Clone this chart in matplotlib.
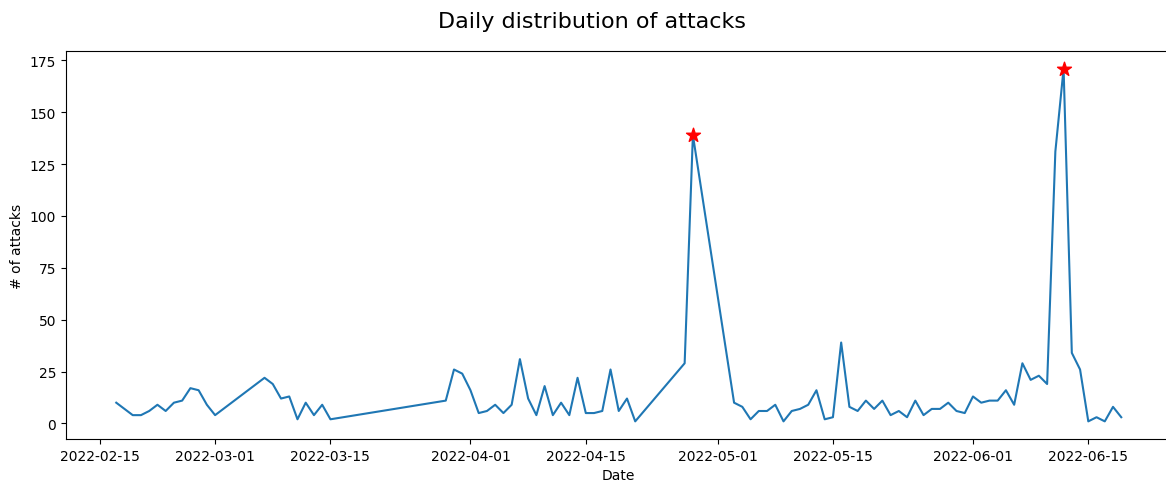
import matplotlib
matplotlib.use("Agg")
import matplotlib.pyplot as plt
import pandas as pd

# daily attack counts (days without any attack are simply missing)
days = [
    "2022-02-17", "2022-02-19", "2022-02-20", "2022-02-21", "2022-02-22",
    "2022-02-23", "2022-02-24", "2022-02-25", "2022-02-26", "2022-02-27",
    "2022-02-28", "2022-03-01", "2022-03-07", "2022-03-08", "2022-03-09",
    "2022-03-10", "2022-03-11", "2022-03-12", "2022-03-13", "2022-03-14",
    "2022-03-15", "2022-03-29", "2022-03-30", "2022-03-31", "2022-04-01",
    "2022-04-02", "2022-04-03", "2022-04-04", "2022-04-05", "2022-04-06",
    "2022-04-07", "2022-04-08", "2022-04-09", "2022-04-10", "2022-04-11",
    "2022-04-12", "2022-04-13", "2022-04-14", "2022-04-15", "2022-04-16",
    "2022-04-17", "2022-04-18", "2022-04-19", "2022-04-20", "2022-04-21",
    "2022-04-27", "2022-04-28", "2022-05-03", "2022-05-04", "2022-05-05",
    "2022-05-06", "2022-05-07", "2022-05-08", "2022-05-09", "2022-05-10",
    "2022-05-11", "2022-05-12", "2022-05-13", "2022-05-14", "2022-05-15",
    "2022-05-16", "2022-05-17", "2022-05-18", "2022-05-19", "2022-05-20",
    "2022-05-21", "2022-05-22", "2022-05-23", "2022-05-24", "2022-05-25",
    "2022-05-26", "2022-05-27", "2022-05-28", "2022-05-29", "2022-05-30",
    "2022-05-31", "2022-06-01", "2022-06-02", "2022-06-03", "2022-06-04",
    "2022-06-05", "2022-06-06", "2022-06-07", "2022-06-08", "2022-06-09",
    "2022-06-10", "2022-06-11", "2022-06-12", "2022-06-13", "2022-06-14",
    "2022-06-15", "2022-06-16", "2022-06-17", "2022-06-18", "2022-06-19",
]
attacks = [
    10, 4, 4, 6, 9,
    6, 10, 11, 17, 16,
    9, 4, 22, 19, 12,
    13, 2, 10, 4, 9,
    2, 11, 26, 24, 16,
    5, 6, 9, 5, 9,
    31, 12, 4, 18, 4,
    10, 4, 22, 5, 5,
    6, 26, 6, 12, 1,
    29, 139, 10, 8, 2,
    6, 6, 9, 1, 6,
    7, 9, 16, 2, 3,
    39, 8, 6, 11, 7,
    11, 4, 6, 3, 11,
    4, 7, 7, 10, 6,
    5, 13, 10, 11, 11,
    16, 9, 29, 21, 23,
    19, 131, 171, 34, 26,
    1, 3, 1, 8, 3,
]
# days flagged as outliers
peak_days = ["2022-04-28", "2022-06-12"]

s = pd.Series(attacks, index=pd.to_datetime(days))
peaks = s.loc[pd.to_datetime(peak_days)]

fig = plt.figure(figsize=(11.66, 4.81), dpi=100)
ax = fig.add_axes([66 / 1166, 1 - 440 / 481, 1105.5 / 1166, 388 / 481])

ax.plot(s.index, s.values)
ax.scatter(peaks.index, peaks.values, marker="*", color="red", s=110, zorder=3)

ax.set_xlabel("Date")
ax.set_ylabel("# of attacks")
fig.suptitle("Daily distribution of attacks", fontsize=16, x=591.5 / 1166, y=0.975)

fig.savefig("out.png", dpi=100)
